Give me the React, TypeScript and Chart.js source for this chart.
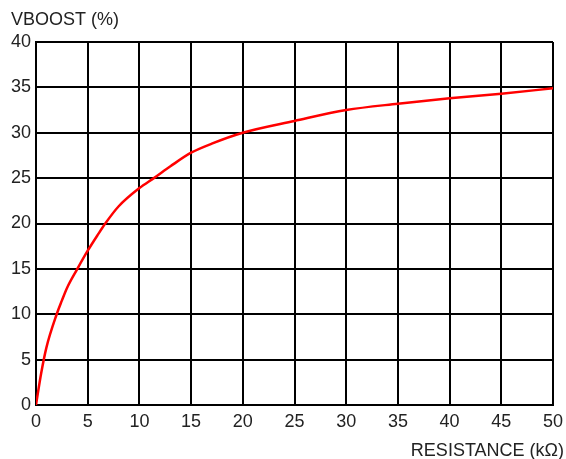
import React, { useEffect, useRef } from "react";
import { Chart, registerables } from "chart.js";

Chart.register(...registerables);

const resistance = [0, 0.5, 1, 2, 2.5, 3, 4, 5, 6, 6.7, 8, 10, 11.4, 13, 15, 17, 20, 25, 30, 35, 40, 45, 50];
const vboost = [0, 3.5, 6.3, 10, 11.5, 12.9, 15, 17, 18.8, 20, 21.9, 23.9, 25, 26.3, 27.8, 28.8, 30, 31.3, 32.5, 33.2, 33.8, 34.3, 34.9];
const yTitle = "VBOOST (%)";
const xTitle = "RESISTANCE (kΩ)";

const FONT = "'Liberation Sans', Arial, sans-serif";
const TEXT = "#222222";

const axisLabels = {
  id: "axisLabels",
  afterDraw(chart: any) {
    const ctx = chart.ctx;
    ctx.save();
    ctx.fillStyle = TEXT;
    ctx.font = `18px ${FONT}`;
    ctx.textBaseline = "alphabetic";
    ctx.textAlign = "left";
    ctx.fillText(yTitle, 11, 25);
    ctx.textAlign = "right";
    ctx.fillText(xTitle, 564, 456);
    ctx.restore();
  },
};

export default function App() {
  const ref = useRef<HTMLCanvasElement>(null);
  useEffect(() => {
    if (!ref.current) return;
    const chart = new Chart(ref.current, {
      type: "line",
      data: {
        datasets: [
          {
            data: resistance.map((x, i) => ({ x, y: vboost[i] })),
            borderColor: "#ff0000",
            borderWidth: 2.5,
            pointRadius: 0,
            cubicInterpolationMode: "monotone",
            fill: false,
          },
        ],
      },
      options: {
        responsive: false,
        animation: false,
        devicePixelRatio: 1,
        layout: { padding: { top: 42, right: 13, left: 0, bottom: 0 } },
        plugins: { legend: { display: false }, tooltip: { enabled: false } },
        scales: {
          x: {
            type: "linear",
            min: 0,
            max: 50,
            afterFit: (s: any) => {
              s.height = 54;
              s.paddingLeft = 0;
              s.paddingRight = 0;
            },
            ticks: { stepSize: 5, color: TEXT, font: { family: FONT, size: 18 }, padding: 6, maxRotation: 0 },
            grid: { color: "#000000", lineWidth: 2, drawTicks: false },
            border: { color: "#000000", width: 2 },
          },
          y: {
            type: "linear",
            min: 0,
            max: 40,
            afterFit: (s: any) => {
              s.width = 36;
              s.paddingTop = 0;
              s.paddingBottom = 0;
            },
            ticks: { stepSize: 5, color: TEXT, font: { family: FONT, size: 18 }, padding: 5 },
            grid: { color: "#000000", lineWidth: 2, drawTicks: false },
            border: { color: "#000000", width: 2 },
          },
        },
      },
      plugins: [axisLabels],
    });
    return () => chart.destroy();
  }, []);
  return (
    <div style={{ position: "fixed", left: 0, top: 0, width: 566, height: 459, background: "#fff" }}>
      <canvas ref={ref} width={566} height={459} />
    </div>
  );
}
